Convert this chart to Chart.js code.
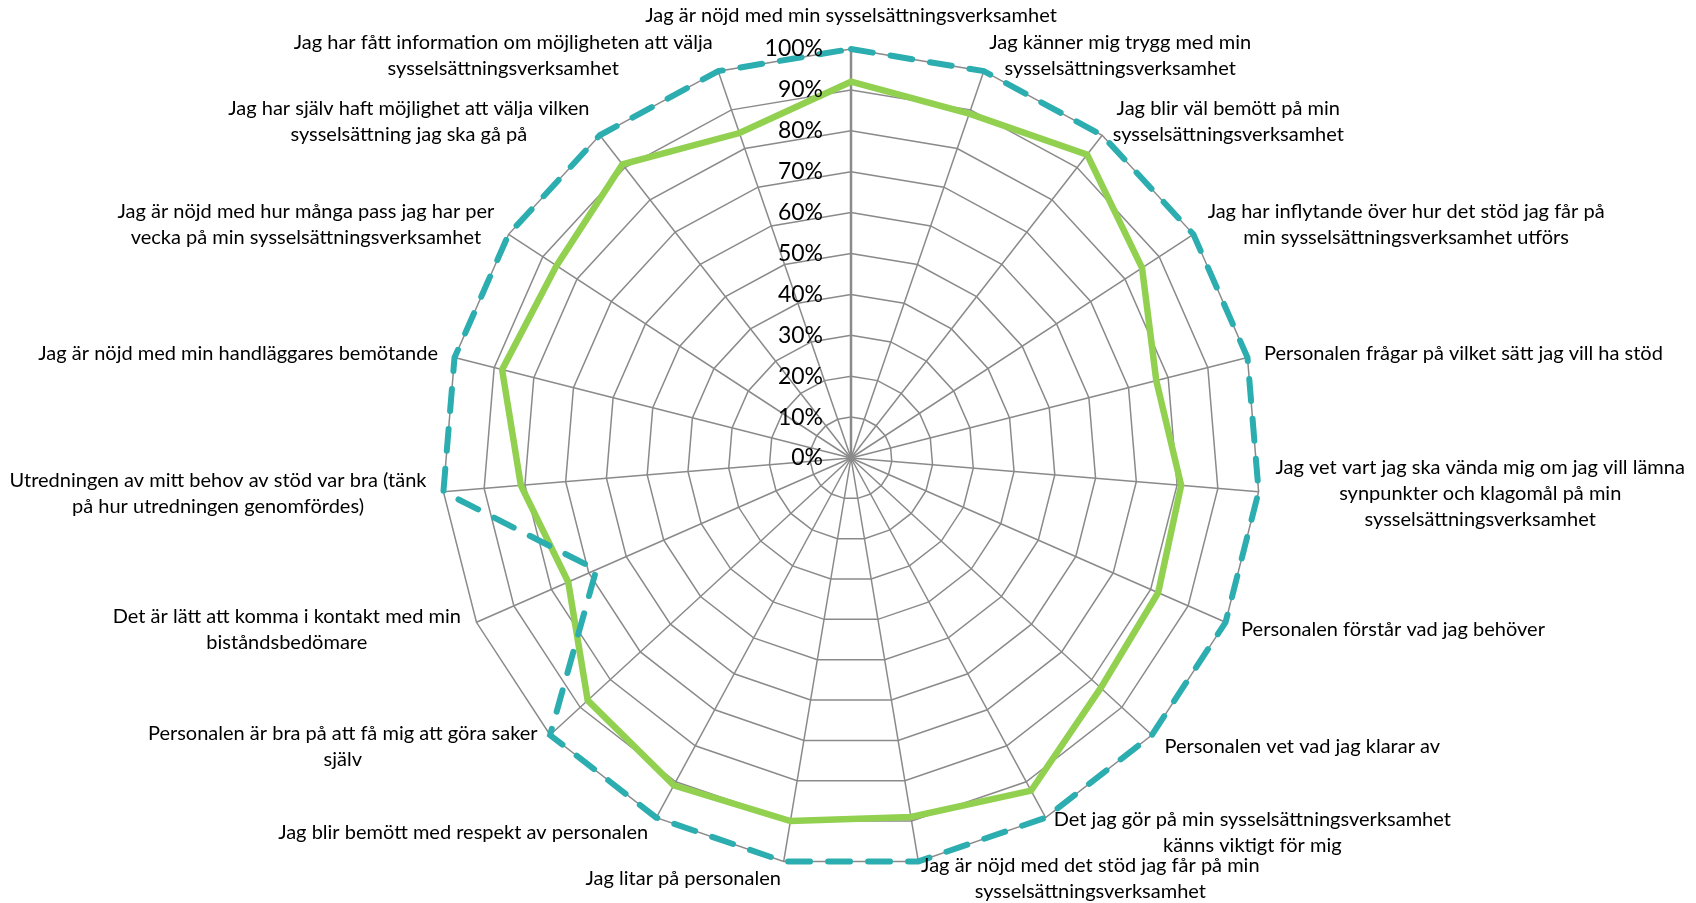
<!DOCTYPE html>
<html>
<head>
<meta charset="utf-8">
<script src="https://cdn.jsdelivr.net/npm/chart.js@4.4.1/dist/chart.umd.min.js"></script>
<style>
  html, body { margin: 0; padding: 0; background: #fff; }
  #wrap { width: 1696px; height: 903px; position: relative; }
</style>
</head>
<body>
<div id="wrap"><canvas id="myChart"></canvas></div>
<script>
// categories, clockwise from the top, split into lines as in the original
const categories = [
  ['Jag är nöjd med min sysselsättningsverksamhet'],
  ['Jag känner mig trygg med min', 'sysselsättningsverksamhet'],
  ['Jag blir väl bemött på min', 'sysselsättningsverksamhet'],
  ['Jag har inflytande över hur det stöd jag får på', 'min sysselsättningsverksamhet utförs'],
  ['Personalen frågar på vilket sätt jag vill ha stöd'],
  ['Jag vet vart jag ska vända mig om jag vill lämna', 'synpunkter och klagomål på min', 'sysselsättningsverksamhet'],
  ['Personalen förstår vad jag behöver'],
  ['Personalen vet vad jag klarar av'],
  ['Det jag gör på min sysselsättningsverksamhet', 'känns viktigt för mig'],
  ['Jag är nöjd med det stöd jag får på min', 'sysselsättningsverksamhet'],
  ['Jag litar på personalen'],
  ['Jag blir bemött med respekt av personalen'],
  ['Personalen är bra på att få mig att göra saker', 'själv'],
  ['Det är lätt att komma i kontakt med min', 'biståndsbedömare'],
  ['Utredningen av mitt behov av stöd var bra (tänk', 'på hur utredningen genomfördes)'],
  ['Jag är nöjd med min handläggares bemötande'],
  ['Jag är nöjd med hur många pass jag har per', 'vecka på min sysselsättningsverksamhet'],
  ['Jag har själv haft möjlighet att välja vilken', 'sysselsättning jag ska gå på'],
  ['Jag har fått information om möjligheten att välja', 'sysselsättningsverksamhet']
];

// green solid line, percent
const resultat = [92, 89, 94, 85, 77, 81, 82, 83, 92.5, 89, 90, 91, 87.5, 75.5, 81, 88, 86, 91, 84];
// teal dashed line, percent
const jamforelse = [100, 100, 100, 100, 100, 100, 100, 100, 100, 100, 100, 100, 100, 68, 100, 100, 100, 100, 100];

const tickLabels = ['0%', '10%', '20%', '30%', '40%', '50%', '60%', '70%', '80%', '90%', '100%'];

// labels placed like Excel does: box next to the spoke end, vertically centred
const excelLabels = {
  id: 'excelLabels',
  afterDraw(chart) {
    const scale = chart.scales.r;
    const ctx = chart.ctx;
    const R = scale.drawingArea;
    const n = chart.data.labels.length;
    ctx.save();
    ctx.fillStyle = '#000';
    ctx.textBaseline = 'middle';

    ctx.font = '23px Lato';
    ctx.textAlign = 'right';
    scale.ticks.forEach(t => {
      const d = scale.getDistanceFromCenterForValue(t.value);
      ctx.fillText(t.label, scale.xCenter - 28, scale.yCenter - d);
    });

    ctx.font = '20px Lato';
    ctx.textAlign = 'center';
    const lineH = 26;
    chart.data.labels.forEach((lines, i) => {
      const p = scale.getPointPosition(i, R + 17);
      const deg = i * 360 / n;
      const w = Math.max(...lines.map(s => ctx.measureText(s).width));
      const h = lines.length * lineH;
      let left;
      if (deg === 0) left = p.x - w / 2;
      else if (deg < 180) left = p.x;
      else left = p.x - w;
      const top = deg === 0 ? p.y - h - 3 : p.y - h / 2;
      lines.forEach((s, k) => ctx.fillText(s, left + w / 2, top + lineH * (k + 0.5)));
    });
    ctx.restore();
  }
};

const ctx = document.getElementById('myChart');

const myChart = new Chart(ctx, {
  type: 'radar',
  data: {
    labels: categories,
    datasets: [{
      label: 'Jämförelse',
      data: jamforelse,
      borderColor: '#2CADB0',
      borderWidth: 6,
      borderDash: [22, 18],
      borderCapStyle: 'round',
      pointRadius: 0,
      fill: false,
      clip: false
    },
    {
      label: 'Resultat',
      data: resultat,
      borderColor: '#92D050',
      borderWidth: 6.5,
      borderJoinStyle: 'miter',
      pointRadius: 0,
      fill: false,
      clip: false
    }]
  },
  options: {
    animation: false,
    responsive: true,
    maintainAspectRatio: false,
    layout: {
      padding: { left: 442, right: 436, top: 49, bottom: 36 }
    },
    plugins: {
      legend: { display: false },
      tooltip: { enabled: false }
    },
    scales: {
      r: {
        min: 0,
        max: 100,
        startAngle: 0,
        ticks: {
          stepSize: 10,
          display: false,
          callback: (v, i) => tickLabels[i]
        },
        pointLabels: { display: false },
        grid: {
          color: '#8a8a8a',
          lineWidth: 1.5
        },
        angleLines: {
          color: '#8a8a8a',
          lineWidth: (c) => c.index === 0 ? 2.5 : 1.5
        }
      }
    }
  },
  plugins: [excelLabels]
});
</script>
</body>
</html>
